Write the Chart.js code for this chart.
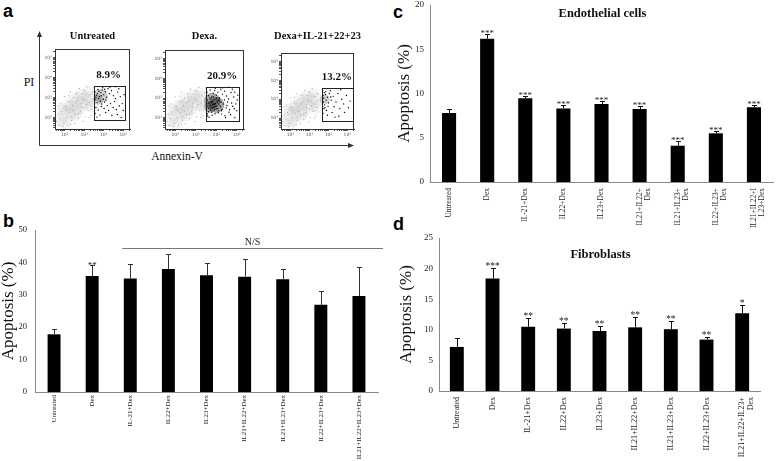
<!DOCTYPE html>
<html><head><meta charset="utf-8">
<script src="https://cdn.jsdelivr.net/npm/chart.js@4/dist/chart.umd.min.js"></script>
<style>
body{margin:0;width:778px;height:461px;background:#fff;position:relative;overflow:hidden;font-family:"Liberation Serif",serif}
canvas{position:absolute}
.lbl{position:absolute;font-family:"Liberation Sans",Arial,sans-serif;font-weight:bold;font-size:18px;line-height:1;color:#000}
.t{position:absolute;transform:translate(-50%,-50%);white-space:nowrap;font-family:"Liberation Serif",serif;color:#111;line-height:1}
</style></head><body>
<div class="lbl" style="left:3px;top:2px">a</div>
<div class="lbl" style="left:3px;top:212px">b</div>
<div class="lbl" style="left:393px;top:3px">c</div>
<div class="lbl" style="left:393px;top:215px">d</div>
<svg style="position:absolute;left:0;top:0" width="360" height="150">
  <path d="M39.5 145.5 V36 M39.5 145.5 H349" stroke="#333" stroke-width="1" fill="none"/>
  <path d="M39.5 31 L37 37 L42 37 Z" fill="#333"/>
  <path d="M354 145.5 L348 143 L348 148 Z" fill="#333"/>
</svg>
<div class="t" style="left:29px;top:82px;font-size:12px">PI</div>
<div class="t" style="left:177px;top:157px;font-size:11.5px">Annexin-V</div>
<canvas id="f1"></canvas><canvas id="f2"></canvas><canvas id="f3"></canvas>
<canvas id="cb"></canvas><canvas id="cc"></canvas><canvas id="cd"></canvas>
<script>
// ---------- panel a : flow cytometry (log10 units) ----------
const flowTitles = ['Untreated', 'Dexa.', 'Dexa+IL-21+22+23'];
const flowPercents = ['8.9%', '20.9%', '13.2%'];
const flowGates = [[3.49, 5.12, 1.91, 3.60], [3.50, 5.17, 1.84, 3.58], [3.65, 5.35, 1.87, 3.61]];
const cloudBlobs = [[1.8,1.9,7],[2.1,2.15,9],[2.4,2.4,10],[2.7,2.6,10],[3.0,2.8,9],[3.3,2.95,8],[2.5,2.2,8],[2.2,2.6,7],[2.9,3.1,7],[1.9,2.4,6],[3.4,2.6,7],[2.6,2.9,8],[2.0,1.7,6],[3.2,3.3,6]];
const grayDots = [1.75,1.95, 1.85,2.30, 1.95,1.70, 2.05,2.55, 2.10,2.00, 2.20,2.80, 2.25,2.25, 2.35,1.85, 2.40,2.60, 2.45,3.00, 2.55,2.15, 2.60,2.45, 2.65,2.85, 2.70,1.95, 2.80,2.30, 2.85,2.70, 2.90,3.20, 3.00,2.50, 3.05,2.05, 3.10,2.90, 3.20,2.35, 3.25,2.75, 3.30,3.15, 3.40,2.55, 3.45,2.95, 1.65,2.15, 1.70,2.60, 2.00,3.05, 2.30,3.30, 2.75,3.45, 3.15,3.55, 3.35,2.10, 2.50,1.70, 2.95,1.80, 1.90,1.55, 2.15,1.60, 2.55,2.75, 2.35,2.05, 2.85,2.55, 3.10,2.65, 1.60,1.80, 1.80,2.70, 2.10,2.40, 2.30,1.65, 2.60,3.20, 2.70,2.20, 3.00,3.35, 3.35,2.40, 3.45,3.30, 2.20,3.10, 1.70,1.60, 2.45,2.35, 2.95,2.95, 3.25,2.00];
const gateDots1 = [3.55,3.30, 3.62,3.12, 3.70,3.41, 3.78,3.05, 3.85,3.25, 3.92,3.38, 4.00,3.15, 4.08,3.30, 4.15,3.02, 4.22,3.45, 3.58,2.90, 3.66,2.75, 3.74,2.95, 3.82,2.82, 3.90,2.68, 3.98,2.92, 4.05,2.78, 4.12,2.88, 4.30,3.20, 4.40,3.35, 4.50,3.10, 4.60,2.95, 4.72,3.28, 4.85,3.05, 4.95,2.70, 3.60,2.50, 3.72,2.38, 3.88,2.55, 4.02,2.45, 4.18,2.60, 4.35,2.70, 4.48,2.50, 4.65,2.40, 4.80,2.58, 5.00,2.35, 3.56,2.20, 3.80,2.12, 4.10,2.25, 4.42,2.10, 4.70,2.15, 4.90,2.00, 3.65,2.02, 4.25,2.35, 4.55,2.80, 3.95,3.50, 4.32,3.52, 3.52,3.50, 4.78,3.45, 5.05,3.15, 4.60,3.55, 3.68,3.20, 3.76,3.32, 3.88,3.10, 4.05,3.42, 3.60,3.02];
const gateDots2 = [3.55,3.30, 3.62,3.12, 3.70,3.41, 3.78,3.05, 3.85,3.25, 3.92,3.38, 4.00,3.15, 4.08,3.30, 4.15,3.02, 4.22,3.45, 3.58,2.90, 3.66,2.75, 3.74,2.95, 3.82,2.82, 3.90,2.68, 3.98,2.92, 4.05,2.78, 4.12,2.88, 4.30,3.20, 4.40,3.35, 4.50,3.10, 4.60,2.95, 4.72,3.28, 4.85,3.05, 4.95,2.70, 3.60,2.50, 3.72,2.38, 3.88,2.55, 4.02,2.45, 4.18,2.60, 4.35,2.70, 4.48,2.50, 4.65,2.40, 4.80,2.58, 5.00,2.35, 3.56,2.20, 3.80,2.12, 4.10,2.25, 4.42,2.10, 4.70,2.15, 4.90,2.00, 3.65,2.02, 4.25,2.35, 4.55,2.80, 3.95,3.50, 4.32,3.52, 3.52,3.50, 4.78,3.45, 5.05,3.15, 4.60,3.55, 3.55,2.60, 3.60,2.75, 3.64,2.45, 3.70,2.62, 3.75,2.80, 3.80,2.50, 3.84,2.68, 3.88,2.90, 3.92,2.40, 3.96,2.72, 4.00,2.58, 4.04,2.85, 4.08,2.48, 4.12,2.70, 4.16,2.95, 4.20,2.55, 4.24,2.78, 4.28,2.42, 3.62,2.30, 3.78,2.28, 3.94,2.20, 4.10,2.35, 4.26,2.18, 3.68,3.00, 3.86,3.05, 4.02,3.00, 4.18,2.82, 4.40,2.90, 4.52,2.62, 4.62,2.28, 4.75,2.75, 4.88,2.45, 5.02,2.90, 3.58,2.08, 4.45,2.00, 4.90,3.30];
const gateDots3 = [3.72,3.20, 3.78,3.35, 3.75,3.05, 3.84,3.25, 3.74,2.85, 3.80,2.70, 3.88,2.95, 3.95,3.10, 3.70,2.60, 3.76,2.50, 3.90,2.40, 4.00,2.80, 4.05,3.30, 4.15,2.95, 4.25,3.15, 4.30,2.60, 4.40,2.85, 4.50,3.30, 4.60,2.50, 4.70,3.00, 4.80,2.75, 4.95,3.20, 5.05,2.55, 3.72,2.25, 3.95,2.15, 4.20,2.30, 4.55,2.10, 4.85,2.30, 5.15,2.90, 3.70,3.45, 4.10,3.45, 4.65,3.50, 3.82,2.55, 4.35,2.05, 3.98,2.62, 3.86,3.40, 4.12,3.12];
const gateCores = [[[3.85,3.1,7],[3.72,2.9,5]], [[3.8,2.85,8],[4.0,2.65,8],[3.7,2.55,6]], [[3.8,3.0,5]]];

// ---------- panels b, c, d ----------
const categoriesB = ['Untreated','Dex','IL-21+Dex','IL22+Dex','IL23+Dex','IL21+IL22+Dex','IL21+IL23+Dex','IL22+IL23+Dex','IL21+IL22+IL23+Dex'];
const valuesB = [17.8, 35.8, 35.0, 38.0, 36.0, 35.6, 34.8, 26.9, 29.6];
const errorsB = [1.7, 3.3, 4.4, 4.6, 3.7, 5.3, 3.3, 4.4, 9.0];
const starsB = ['', '**', '', '', '', '', '', '', ''];

const categoriesC = ['Untreated','Dex','IL-21+Dex','IL22+Dex','IL23+Dex',['IL21+IL22+','Dex'],['IL21+IL23+','Dex'],['IL22+IL23+','Dex'],['IL21+IL22+I','L23+Dex']];
const valuesC = [7.8, 16.2, 9.45, 8.3, 8.8, 8.25, 4.1, 5.5, 8.45];
const errorsC = [0.45, 0.5, 0.25, 0.35, 0.35, 0.3, 0.55, 0.25, 0.3];
const starsC = ['', '***', '***', '***', '***', '***', '***', '***', '***'];

const categoriesD = ['Untreated','Dex','IL-21+Dex','IL22+Dex','IL23+Dex','IL21+IL22+Dex','IL21+IL23+Dex','IL22+IL23+Dex',['IL21+IL22+IL23+','Dex']];
const valuesD = [7.2, 18.4, 10.5, 10.2, 9.8, 10.4, 10.1, 8.4, 12.7];
const errorsD = [1.4, 1.7, 1.4, 0.9, 0.9, 1.7, 1.4, 0.5, 1.3];
const starsD = ['', '***', '**', '**', '**', '**', '**', '**', '*'];

// ---------- helpers ----------
const pairs = a => { const r = []; for (let i = 0; i < a.length; i += 2) r.push({x: a[i], y: a[i + 1]}); return r; };
const blobs = a => a.map(b => ({x: b[0], y: b[1], r: b[2]}));
const sup = {2: '²', 3: '³', 4: '⁴', 5: '⁵'};
function logTicks(scale) {
  const t = [];
  for (let n = 1; n <= 5; n++) for (let k = 1; k <= 9; k++) {
    const v = n + Math.log10(k);
    if (v >= scale.min && v <= scale.max) t.push({value: v});
  }
  scale.ticks = t;
}
const decLabel = v => (Math.abs(v - Math.round(v)) < 1e-6 && sup[Math.round(v)]) ? '10' + sup[Math.round(v)] : '';
const noPad = s => { s.paddingTop = 0; s.paddingBottom = 0; s.paddingLeft = 0; s.paddingRight = 0; };

function flowChart(id, box, idx, dots) {
  const cv = document.getElementById(id);
  const top = 20;
  cv.width = box.r - box.l + 20; cv.height = box.b - top + 16;
  cv.style.left = (box.l - 16) + 'px'; cv.style.top = top + 'px';
  const gate = flowGates[idx];
  const decor = {
    id: 'flowDecor',
    afterDraw(chart) {
      const {ctx, chartArea: a, scales: {x, y}} = chart;
      ctx.save();
      ctx.strokeStyle = '#333'; ctx.lineWidth = 1;
      ctx.strokeRect(Math.round(a.left) + 0.5, Math.round(a.top) + 0.5, Math.round(a.right - a.left) - 1, Math.round(a.bottom - a.top));
      const gx0 = x.getPixelForValue(gate[0]), gx1 = x.getPixelForValue(gate[1]);
      const gy0 = y.getPixelForValue(gate[3]), gy1 = y.getPixelForValue(gate[2]);
      ctx.strokeStyle = '#222';
      ctx.strokeRect(Math.round(gx0) + 0.5, Math.round(gy0) + 0.5, Math.round(gx1 - gx0) - 1, Math.round(gy1 - gy0));
      ctx.fillStyle = '#111'; ctx.textAlign = 'center'; ctx.textBaseline = 'middle';
      ctx.font = 'bold 11px "Liberation Serif"';
      ctx.fillText(flowPercents[idx], (gx0 + gx1) / 2 - 1, gy0 - 11);
      ctx.font = 'bold 10.5px "Liberation Serif"';
      ctx.fillText(flowTitles[idx], (a.left + a.right) / 2, 16);
      ctx.restore();
    }
  };
  const axis = isX => ({
    type: 'linear', min: isX ? 1.5 : 1.42, max: isX ? 5.35 : 5.45,
    afterBuildTicks: logTicks,
    afterFit: s => { if (isX) s.height = 16; else s.width = 16; noPad(s); },
    ticks: {autoSkip: false, maxRotation: 0, font: {size: 4.5, family: 'DejaVu Sans'}, padding: 1, color: '#555', callback: decLabel},
    grid: {drawOnChartArea: false, tickLength: 2, color: '#555'},
    border: {color: '#333'}
  });
  new Chart(cv, {
    type: 'scatter',
    data: {datasets: [
      {type: 'bubble', data: blobs(cloudBlobs), backgroundColor: 'rgba(160,160,160,0.10)', borderWidth: 0},
      {data: pairs(grayDots), pointRadius: 0.6, backgroundColor: '#a5a5a5', borderWidth: 0},
      {type: 'bubble', data: blobs(gateCores[idx]), backgroundColor: idx === 1 ? 'rgba(0,0,0,0.35)' : 'rgba(0,0,0,0.18)', borderWidth: 0},
      {data: pairs(dots), pointRadius: 0.7, backgroundColor: '#000', borderWidth: 0}
    ]},
    options: {
      responsive: false, animation: false, events: [],
      layout: {padding: {left: 0, top: box.t - top, right: 4, bottom: 0}},
      plugins: {legend: {display: false}, tooltip: {enabled: false}},
      scales: {x: axis(true), y: axis(false)}
    },
    plugins: [decor]
  });
}
flowChart('f1', {l: 55, r: 136, t: 49, b: 129}, 0, gateDots1);
flowChart('f2', {l: 165, r: 250, t: 50, b: 129}, 1, gateDots2);
flowChart('f3', {l: 281, r: 360, t: 53, b: 129}, 2, gateDots3);

function barChart(id, pos, labels, values, errors, stars, cfg) {
  const cv = document.getElementById(id);
  cv.width = pos.w; cv.height = pos.h; cv.style.left = pos.l + 'px'; cv.style.top = pos.t + 'px';
  const decor = {
    id: 'barDecor',
    afterDatasetsDraw(chart) {
      const {ctx, chartArea: a, scales: {x, y}} = chart;
      const meta = chart.getDatasetMeta(0);
      ctx.save();
      ctx.strokeStyle = cfg.errColor; ctx.lineWidth = 1;
      errors.forEach((e, i) => {
        const bar = meta.data[i];
        const top = Math.round(y.getPixelForValue(values[i] + e)) + 0.5;
        const bx = Math.round(bar.x) + 0.5;
        ctx.beginPath();
        ctx.moveTo(bx, bar.y); ctx.lineTo(bx, top);
        ctx.moveTo(bx - cfg.cap, top); ctx.lineTo(bx + cfg.cap, top);
        ctx.stroke();
        if (stars[i]) {
          ctx.fillStyle = '#222'; ctx.font = cfg.starFont; ctx.textAlign = 'center'; ctx.textBaseline = 'alphabetic';
          ctx.fillText(stars[i], bar.x, top + cfg.starDy);
        }
      });
      if (cfg.title) {
        ctx.fillStyle = '#111'; ctx.font = 'bold 12.5px "Liberation Serif"'; ctx.textAlign = 'center'; ctx.textBaseline = 'middle';
        ctx.fillText(cfg.title, (a.left + a.right) / 2 + 1, a.top + cfg.titleDy);
      }
      if (cfg.ns) {
        const ly = Math.round(y.getPixelForValue(cfg.ns.value)) + 0.5;
        const x0 = meta.data[cfg.ns.from].x - 8;
        ctx.strokeStyle = '#777';
        ctx.beginPath(); ctx.moveTo(x0, ly); ctx.lineTo(a.right + 5, ly); ctx.stroke();
        ctx.fillStyle = '#222'; ctx.font = '10px "Liberation Serif"'; ctx.textAlign = 'center'; ctx.textBaseline = 'alphabetic';
        ctx.fillText(cfg.ns.text, (x0 + a.right + 5) / 2, ly - 4);
      }
      ctx.restore();
    }
  };
  new Chart(cv, {
    type: 'bar',
    data: {labels: labels, datasets: [{data: values, backgroundColor: '#000', borderWidth: 0, barPercentage: cfg.barPct, categoryPercentage: 1}]},
    options: {
      responsive: false, animation: false, events: [],
      layout: {padding: cfg.pad},
      plugins: {legend: {display: false}, tooltip: {enabled: false}},
      scales: {
        x: {
          afterFit: s => { s.height = cfg.xH; noPad(s); },
          ticks: {autoSkip: false, maxRotation: 90, minRotation: 90, padding: cfg.xPad, color: '#222', font: {family: 'Liberation Serif', size: cfg.xFont, lineHeight: 1.1}},
          grid: {display: false, drawTicks: false}, border: {display: true, color: '#8a8a8a', width: 1}
        },
        y: {
          min: 0, max: cfg.yMax,
          afterFit: s => { s.width = cfg.yW; noPad(s); },
          ticks: {stepSize: cfg.yStep, padding: cfg.yPad, color: '#222', font: {family: 'Liberation Serif', size: cfg.yFont}},
          grid: {display: false, drawTicks: false}, border: {display: true, color: '#8a8a8a', width: 1},
          title: {display: true, text: 'Apoptosis (%)', color: '#111', font: {family: 'Liberation Serif', size: 17, lineHeight: 1}, padding: {top: cfg.titlePad, bottom: 0}}
        }
      }
    },
    plugins: [decor]
  });
}

barChart('cb', {l: 0, t: 200, w: 390, h: 261}, categoriesB, valuesB, errorsB, starsB,
  {pad: {left: 0, top: 30, right: 12, bottom: 0}, yW: 35, xH: 69, yMax: 50, yStep: 10, barPct: 0.34,
   xFont: 7, xPad: 3, yFont: 8.5, yPad: 8, titlePad: 0, errColor: '#333', cap: 2.5, starFont: '9px "Liberation Serif"', starDy: 2,
   ns: {value: 44.4, from: 2, text: 'N/S'}});
barChart('cc', {l: 390, t: 0, w: 388, h: 235}, categoriesC, valuesC, errorsC, starsC,
  {pad: {left: 0, top: 5, right: 5, bottom: 0}, yW: 40, xH: 53, yMax: 20, yStep: 5, barPct: 0.37,
   xFont: 7.5, xPad: 6, yFont: 9, yPad: 6, titlePad: 6, errColor: '#111', cap: 2.5, starFont: '9px "Liberation Serif"', starDy: 1,
   title: 'Endothelial cells', titleDy: 9});
barChart('cd', {l: 390, t: 225, w: 388, h: 236}, categoriesD, valuesD, errorsD, starsD,
  {pad: {left: 0, top: 13, right: 18, bottom: 0}, yW: 49, xH: 70, yMax: 25, yStep: 5, barPct: 0.39,
   xFont: 8, xPad: 6, yFont: 9, yPad: 6, titlePad: 8.5, errColor: '#111', cap: 2.5, starFont: '9.5px "Liberation Serif"', starDy: 0,
   title: 'Fibroblasts', titleDy: 17});
</script>
</body></html>
